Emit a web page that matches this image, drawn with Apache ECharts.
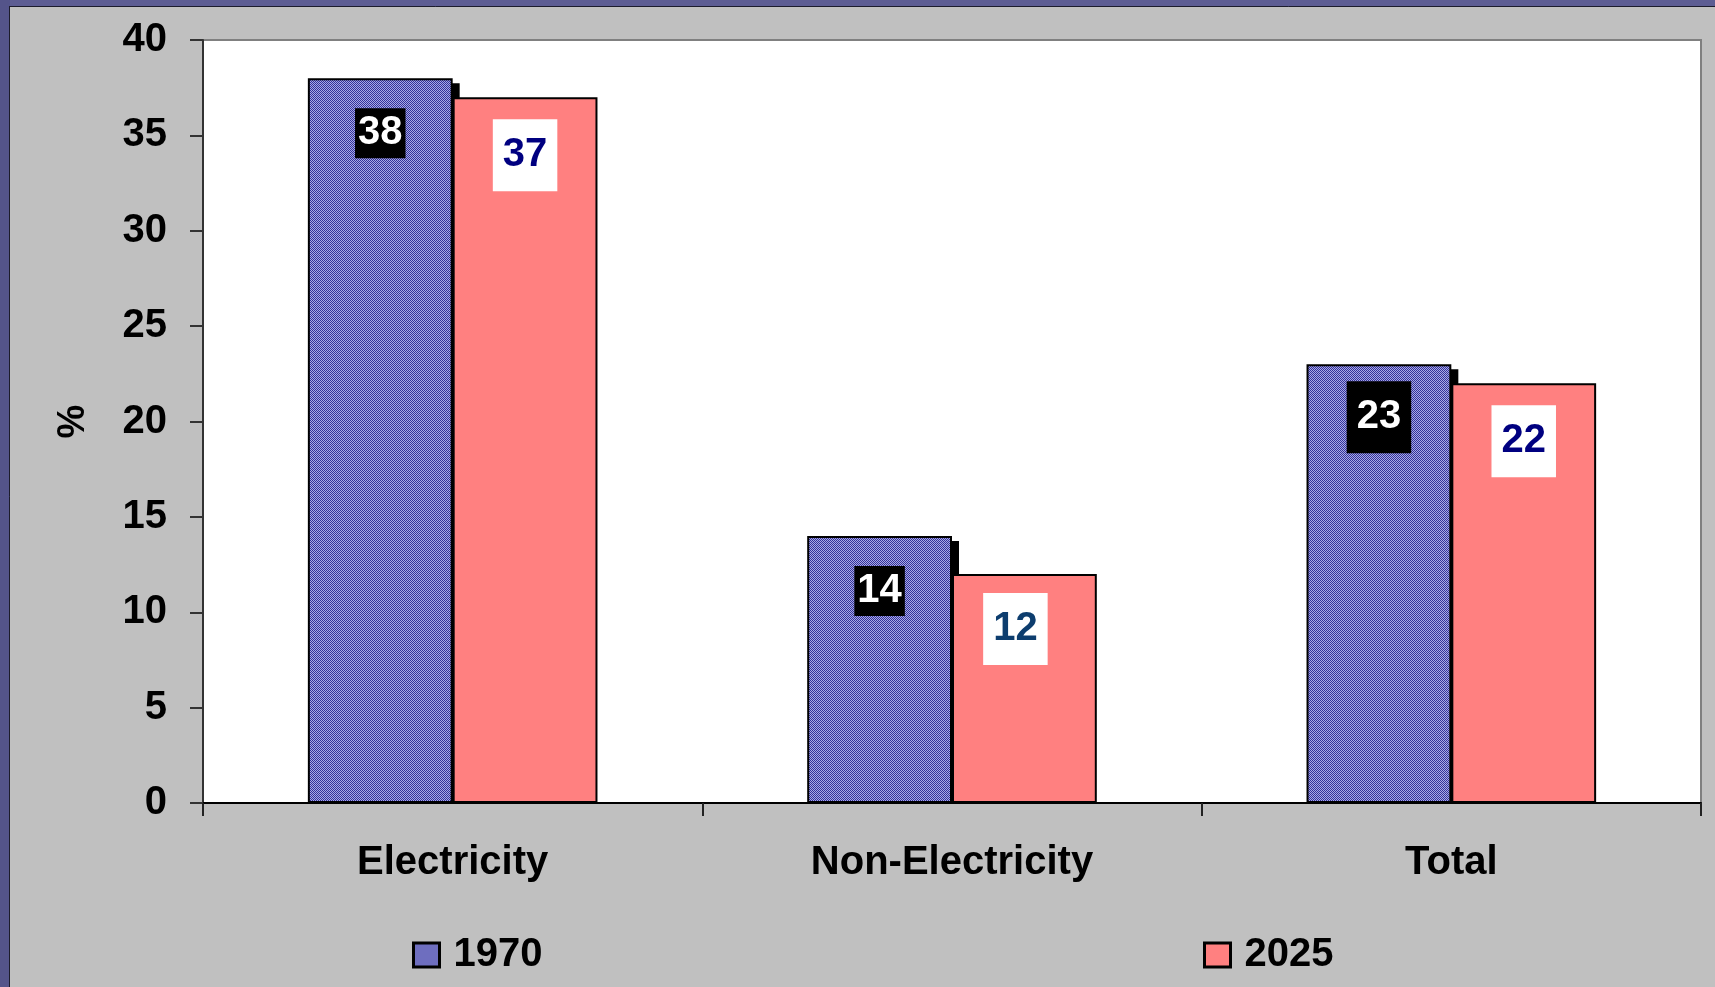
<!DOCTYPE html>
<html>
<head>
<meta charset="utf-8">
<style>
  html, body { margin: 0; padding: 0; background: #c0c0c0; }
  #chart { width: 1715px; height: 987px; }
</style>
<script src="https://cdn.jsdelivr.net/npm/echarts@6/dist/echarts.min.js"></script>
</head>
<body>
<div id="chart"></div>
<script>
// Share of energy, by use, in 1970 and 2025 (%)
const categories = ['Electricity', 'Non-Electricity', 'Total'];
const seriesNames = ['1970', '2025'];
const values1970 = [38, 14, 23];
const values2025 = [37, 12, 22];
const yTicks = { min: 0, max: 40, step: 5 };

const FONT = "'Liberation Sans', Arial, sans-serif";
const BAR_SHARE = 0.29;          // each bar's share of the category band

// fine two-tone checker used as the fill of the 1970 bars
function checker(a, b) {
  const c = document.createElement('canvas');
  c.width = 2; c.height = 2;
  const g = c.getContext('2d');
  g.fillStyle = b; g.fillRect(0, 0, 2, 2);
  g.fillStyle = a; g.fillRect(0, 0, 1, 1); g.fillRect(1, 1, 1, 1);
  return { image: c, repeat: 'repeat' };
}
const blueFill = checker('#333399', '#a9a9e6');
const pinkFill = '#ff8080';

const chart = echarts.init(document.getElementById('chart'), null, { renderer: 'canvas' });

const legendText = { fontSize: 40, fontWeight: 'bold', color: '#000', fontFamily: FONT, lineHeight: 40, padding: [0, 0, 0, 9] };
const legendItem = { borderColor: '#000', borderWidth: 3 };

// labels of the 1970 bars: white on a black box
const label1970 = {
  show: true, position: 'insideTop', distance: 30,
  fontSize: 40, fontWeight: 'bold', color: '#fff', fontFamily: FONT, lineHeight: 40,
  backgroundColor: '#000', padding: [5, 3]
};
// labels of the 2025 bars: navy on a white box
const label2025 = {
  show: true, position: 'insideTop', distance: 22,
  fontSize: 40, fontWeight: 'bold', color: '#000080', fontFamily: FONT, lineHeight: 40,
  backgroundColor: '#fff', padding: [16, 10]
};

const data1970 = values1970.map((v, i) =>
  i === 2 ? { value: v, label: { padding: [16, 10], distance: 17 } } : v);
const data2025 = values2025.map((v, i) =>
  i === 1 ? { value: v, label: { color: '#0d3d6e', offset: [-9, 0], distance: 19 } } : v);

// offset drop shadow behind the 1970 bars, kept above the category axis
function shadowItem(params, api) {
  const idx = api.value(0);
  const top = api.coord([idx, api.value(1)]);
  const base = api.coord([idx, 0]);
  const bw = api.size([1, 0])[0] * BAR_SHARE;
  const dx = 7, dy = 5;
  return {
    type: 'rect',
    shape: { x: top[0] - bw + dx, y: top[1] + dy, width: bw, height: base[1] - top[1] - dy },
    style: { fill: '#000' },
    silent: true
  };
}

chart.setOption({
  backgroundColor: '#c0c0c0',
  animation: false,
  textStyle: { fontFamily: FONT },
  graphic: [
    { type: 'rect', shape: { x: 0, y: 0, width: 1715, height: 7 }, style: { fill: '#5d5d93' }, silent: true },
    { type: 'rect', shape: { x: 0, y: 0, width: 10, height: 987 }, style: { fill: '#54548a' }, silent: true },
    { type: 'line', shape: { x1: 9, y1: 6.5, x2: 1715, y2: 6.5 }, style: { stroke: '#1c1c2c', lineWidth: 1 }, silent: true },
    { type: 'line', shape: { x1: 9.5, y1: 6, x2: 9.5, y2: 987 }, style: { stroke: '#1c1c2c', lineWidth: 1 }, silent: true }
  ],
  grid: {
    left: 203, top: 40, right: 14, bottom: 184,
    show: true, backgroundColor: '#ffffff', borderColor: '#808080', borderWidth: 2
  },
  legend: [
    {
      data: [seriesNames[0]], left: 412, top: 935, padding: 0,
      itemWidth: 26, itemHeight: 24, icon: 'rect',
      textStyle: legendText, itemStyle: legendItem
    },
    {
      data: [seriesNames[1]], left: 1203, top: 935, padding: 0,
      itemWidth: 26, itemHeight: 24, icon: 'rect',
      textStyle: legendText, itemStyle: legendItem
    }
  ],
  xAxis: {
    type: 'category',
    data: categories,
    axisLine: { lineStyle: { color: '#000', width: 2 } },
    axisTick: { show: true, length: 13, lineStyle: { color: '#222', width: 2 } },
    axisLabel: { fontSize: 40, fontWeight: 'bold', color: '#000', fontFamily: FONT, lineHeight: 40, margin: 40 },
    splitLine: { show: false }
  },
  yAxis: {
    type: 'value',
    min: yTicks.min, max: yTicks.max, interval: yTicks.step,
    name: '%', nameLocation: 'middle', nameGap: 110,
    nameTextStyle: { fontSize: 38, fontWeight: 'bold', color: '#000', fontFamily: FONT },
    axisLine: { show: true, lineStyle: { color: '#333', width: 2 } },
    axisTick: { show: true, length: 13, lineStyle: { color: '#333', width: 2 } },
    axisLabel: { fontSize: 40, fontWeight: 'bold', color: '#000', fontFamily: FONT, margin: 36, padding: [5, 0, 0, 0] },
    splitLine: { show: false }
  },
  series: [
    {
      name: 'shadow1970',
      type: 'custom',
      data: values1970.map((v, i) => [i, v]),
      encode: { x: 0, y: 1 },
      renderItem: shadowItem,
      z: 1,
      silent: true
    },
    {
      name: seriesNames[0],
      type: 'bar',
      data: data1970,
      barWidth: (BAR_SHARE * 100) + '%',
      barGap: '0%',
      z: 2,
      itemStyle: { color: blueFill, borderColor: '#000', borderWidth: 2 },
      label: label1970
    },
    {
      name: seriesNames[1],
      type: 'bar',
      data: data2025,
      barWidth: (BAR_SHARE * 100) + '%',
      z: 3,
      itemStyle: { color: pinkFill, borderColor: '#000', borderWidth: 2 },
      label: label2025
    }
  ]
});
</script>
</body>
</html>
